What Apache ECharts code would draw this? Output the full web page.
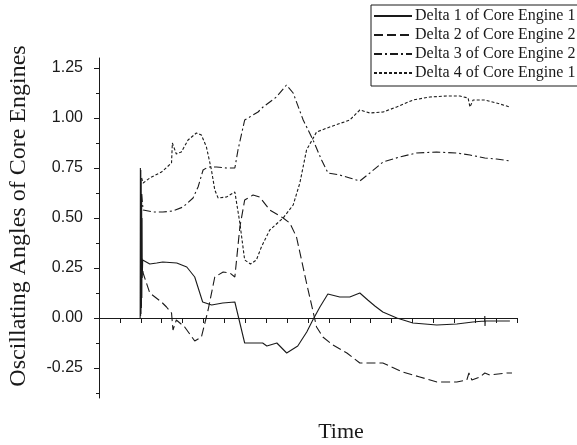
<!DOCTYPE html>
<html>
<head>
<meta charset="utf-8">
<script src="https://cdn.jsdelivr.net/npm/echarts@6/dist/echarts.min.js"></script>
<style>
  html, body { margin: 0; padding: 0; background: #fff; }
  #chart { width: 577px; height: 445px; }
</style>
</head>
<body>
<div id="chart"></div>
<script>
// Series names as shown in the legend
const seriesNames = [
  'Delta 1 of Core Engine 1',
  'Delta 2 of Core Engine 2',
  'Delta 3 of Core Engine 2',
  'Delta 4 of Core Engine 1'
];

// Y tick labels (major) and minor tick positions
const yMajorTicks = [-0.25, 0, 0.25, 0.5, 0.75, 1.0, 1.25];
const yMinorTicks = [-0.375, -0.125, 0.125, 0.375, 0.625, 0.875, 1.125];

// Delta 1 of Core Engine 1 (solid)
const d1x = [1.97, 1.98, 1.99, 2.00, 2.01, 2.02, 2.03, 2.04, 2.05, 2.06, 2.07, 2.09, 2.43, 2.76, 3.05, 3.72, 4.20, 4.58, 4.96, 5.39, 5.92, 6.50,
  6.97, 7.83, 8.03, 8.51, 8.98, 9.51, 9.94, 10.23, 10.57, 10.95, 11.52, 12.00, 12.48, 12.86, 13.20, 13.58,
  14.25, 15.02, 16.16, 17.12, 17.89, 18.45, 18.46, 18.47, 18.48, 19.66];
const d1y = [0.00, 0.75, 0.01, 0.74, 0.02, 0.70, 0.05, 0.62, 0.10, 0.50, 0.20, 0.29, 0.27, 0.275, 0.28, 0.275, 0.255, 0.205, 0.08, 0.065, 0.075, 0.08,
  -0.125, -0.125, -0.14, -0.125, -0.175, -0.14, -0.07, -0.01, 0.055, 0.12, 0.105, 0.105, 0.125, 0.09, 0.06, 0.03,
  0.0, -0.025, -0.035, -0.03, -0.02, -0.015, 0.01, -0.04, -0.015, -0.015];

// Delta 2 of Core Engine 2 (long dash)
const d2x = [2.04, 2.11, 2.43, 2.99, 3.23, 3.47, 3.54, 3.70, 4.10, 4.58, 4.90, 5.22, 5.54, 5.94, 6.26, 6.50, 6.74, 6.97,
  7.37, 7.69, 8.17, 8.81, 9.13, 9.45, 9.93, 10.41, 10.71, 11.19, 11.86, 12.48, 12.96, 13.58, 14.54, 15.35,
  16.17, 17.12, 17.60, 17.70, 17.84, 18.23, 18.46, 18.70, 19.52, 19.76];
const d2y = [0.30, 0.225, 0.125, 0.08, 0.055, 0.025, -0.06, -0.01, -0.045, -0.115, -0.095, 0.04, 0.205, 0.23, 0.225, 0.205, 0.455, 0.59,
  0.615, 0.605, 0.54, 0.50, 0.475, 0.405, 0.175, -0.045, -0.095, -0.135, -0.175, -0.225, -0.225, -0.225, -0.27, -0.295,
  -0.32, -0.32, -0.31, -0.275, -0.31, -0.295, -0.275, -0.285, -0.275, -0.275];

// Delta 3 of Core Engine 2 (dash-dot)
const d3x = [2.04, 2.11, 2.58, 3.06, 3.54, 4.02, 4.50, 4.74, 4.98, 5.22, 5.62, 6.10, 6.50, 6.65, 6.97, 7.21, 7.61, 7.85,
  8.49, 8.97, 9.29, 9.77, 10.24, 10.65, 10.96, 11.52, 12.00, 12.48, 12.96, 13.59, 14.39, 15.19, 16.15,
  17.11, 17.75, 18.46, 19.02, 19.66];
const d3y = [0.62, 0.54, 0.53, 0.53, 0.535, 0.555, 0.60, 0.655, 0.74, 0.755, 0.755, 0.75, 0.75, 0.84, 0.99, 1.005, 1.03, 1.055,
  1.105, 1.165, 1.125, 0.99, 0.89, 0.79, 0.725, 0.715, 0.70, 0.685, 0.725, 0.78, 0.805, 0.825, 0.83,
  0.825, 0.815, 0.80, 0.795, 0.785];

// Delta 4 of Core Engine 1 (short dash)
const d4x = [2.04, 2.11, 2.43, 2.99, 3.47, 3.51, 3.70, 3.94, 4.26, 4.66, 4.90, 5.14, 5.38, 5.54, 5.70, 6.10, 6.50, 6.74,
  6.97, 7.25, 7.53, 7.77, 8.17, 8.81, 9.29, 9.61, 9.93, 10.41, 11.04, 12.00, 12.48, 12.96, 13.60, 14.24,
  15.03, 15.83, 16.63, 17.27, 17.66, 17.75, 17.90, 18.46, 19.02, 19.66];
const d4y = [0.70, 0.675, 0.70, 0.73, 0.775, 0.875, 0.82, 0.83, 0.89, 0.925, 0.915, 0.855, 0.74, 0.64, 0.60, 0.605, 0.63, 0.475,
  0.29, 0.27, 0.29, 0.355, 0.44, 0.50, 0.565, 0.675, 0.84, 0.93, 0.955, 0.99, 1.04, 1.025, 1.03, 1.055,
  1.09, 1.105, 1.11, 1.11, 1.10, 1.055, 1.09, 1.09, 1.075, 1.055];

const xsList = [d1x, d2x, d3x, d4x];
const ysList = [d1y, d2y, d3y, d4y];
const dashes = ['solid', [9, 4], [8, 3, 2, 3], [3, 2]];

const ink = '#1a1a1a';
const serif = '"Liberation Serif", "DejaVu Serif", serif';
const sans = '"Liberation Sans", Arial, sans-serif';

const chart = echarts.init(document.getElementById('chart'), null, { renderer: 'canvas' });

const series = seriesNames.map((name, i) => ({
  name: name,
  type: 'line',
  symbol: 'none',
  smooth: false,
  animation: false,
  lineStyle: { color: ink, width: 1.1, type: dashes[i] },
  itemStyle: { color: ink },
  data: xsList[i].map((x, k) => [x, ysList[i][k]])
}));

chart.setOption({
  backgroundColor: '#fff',
  animation: false,
  grid: { left: 99, right: 60, top: 58, bottom: 47, containLabel: false },
  legend: {
    orient: 'vertical',
    left: 371,
    top: 5,
    padding: [2, 10, 4, 2],
    itemWidth: 38,
    itemHeight: 18,
    itemGap: 1,
    borderColor: ink,
    borderWidth: 1,
    backgroundColor: '#fff',
    itemStyle: { opacity: 0 },
    textStyle: { fontFamily: serif, fontSize: 16, color: ink, lineHeight: 18, padding: [0, 0, 0, -2] },
    data: seriesNames
  },
  xAxis: {
    type: 'value',
    min: 0,
    max: 20,
    interval: 1,
    axisLine: { lineStyle: { color: ink, width: 1 } },
    axisTick: { inside: false, length: 5, lineStyle: { color: ink } },
    axisLabel: { show: false },
    splitLine: { show: false }
  },
  yAxis: [
    {
      type: 'value',
      position: 'left',
      min: -0.4,
      max: 1.3,
      axisLine: { show: true, lineStyle: { color: ink, width: 1 } },
      axisTick: { show: true, length: 5, customValues: yMajorTicks, lineStyle: { color: ink } },
      axisLabel: {
        customValues: yMajorTicks,
        margin: 16,
        fontFamily: sans,
        fontSize: 16,
        color: ink,
        formatter: v => v.toFixed(2)
      },
      splitLine: { show: false }
    },
    {
      type: 'value',
      position: 'left',
      min: -0.4,
      max: 1.3,
      axisLine: { show: false },
      axisTick: { show: true, length: 3, customValues: yMinorTicks, lineStyle: { color: ink } },
      axisLabel: { show: false },
      splitLine: { show: false }
    }
  ],
  graphic: [
    {
      type: 'text',
      x: 19,
      y: 216,
      rotation: Math.PI / 2,
      style: {
        text: 'Oscillating Angles of Core Engines',
        font: '24px ' + serif,
        fill: ink,
        textAlign: 'center',
        textVerticalAlign: 'middle'
      }
    },
    {
      type: 'text',
      x: 341,
      y: 432,
      style: {
        text: 'Time',
        font: '22px ' + serif,
        fill: ink,
        textAlign: 'center',
        textVerticalAlign: 'middle'
      }
    }
  ],
  series: series
});
</script>
</body>
</html>
